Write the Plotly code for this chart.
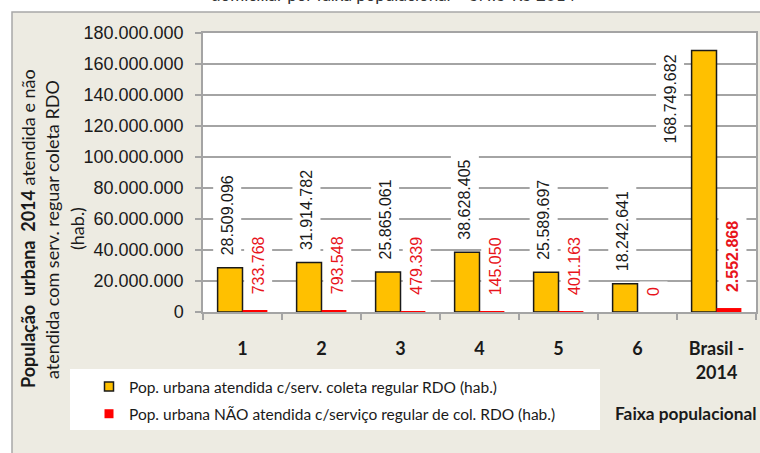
import plotly.graph_objects as go

# ---------------- data ----------------
categories = ["1", "2", "3", "4", "5", "6", "Brasil -<br>2014"]
atendida = [28509096, 31914782, 25865061, 38628405, 25589697, 18242641, 168749682]
nao_atendida = [733768, 793548, 479339, 145050, 401163, 0, 2552868]
y_ticks = [0, 20000000, 40000000, 60000000, 80000000, 100000000,
           120000000, 140000000, 160000000, 180000000]
series_names = [
    "Pop. urbana atendida c/serv. coleta regular RDO (hab.)",
    "Pop. urbana NÃO atendida c/serviço regular de col. RDO (hab.)",
]
title_text = "domiciliar por faixa populacional – SNIS-RS 2014"
y_title_lines = [
    "<b>População  urbana  2014</b> atendida e não",
    "atendida com serv. reguar coleta RDO",
    "(hab.)",
]
x_title = "Faixa populacional"

# ---------------- geometry ----------------
W, H = 760, 453
L, R, T, B = 203, 4, 33, 141
PW, PH = W - L - R, H - T - B


def px(x):
    return (x - L) / PW


def py(y):
    return (H - B - y) / PH


def fmt(v):
    return f"{v:,}".replace(",", ".")


YELLOW = "#FFC000"
RED = "#FF0000"
GRID = "#a4a4a4"
BG = "#EDEBE2"
TXT = "#1a1a1a"

fig = go.Figure()
fig.add_trace(go.Bar(x=categories, y=atendida, name=series_names[0],
                     marker=dict(color=YELLOW, line=dict(color=TXT, width=1.5)),
                     showlegend=False))
fig.add_trace(go.Bar(x=categories, y=nao_atendida, name=series_names[1],
                     marker=dict(color=RED, line=dict(width=0)),
                     showlegend=False))
# legend entries
fig.add_trace(go.Scatter(x=[None], y=[None], mode="markers", name=series_names[0],
                         legendgroup="a",
                         marker=dict(symbol="square", size=9, color=YELLOW,
                                     line=dict(color=TXT, width=1.5))))
fig.add_trace(go.Scatter(x=[None], y=[None], mode="markers", name=series_names[1],
                         legendgroup="b",
                         marker=dict(symbol="square", size=9, color=RED,
                                     line=dict(width=0))))

annotations = []
n = len(categories)
for i, v in enumerate(atendida):
    last = i == n - 1
    annotations.append(dict(
        x=i, y=v, xref="x", yref="y", text=fmt(v), showarrow=False,
        textangle=-90, xanchor="center",
        yanchor="top" if last else "bottom",
        yshift=2 if last else 6, xshift=-46 if last else -15,
        bgcolor="white", borderpad=5,
        font=dict(family="Liberation Sans", size=16, color=TXT)))
for i, v in enumerate(nao_atendida):
    last = i == n - 1
    annotations.append(dict(
        x=i, y=v, xref="x", yref="y",
        text=f"<b>{fmt(v)}</b>" if last else fmt(v), showarrow=False,
        textangle=-90, xanchor="center", yanchor="bottom",
        yshift=10, xshift=16,
        bgcolor="white", borderpad=5,
        font=dict(family="Liberation Sans", size=16, color="#e8141b")))

# axis titles and chart title
for xx, line in zip([28, 52, 77], y_title_lines):
    annotations.append(dict(
        x=px(xx), y=py(229), xref="paper", yref="paper", text=line,
        showarrow=False, textangle=-90, xanchor="center", yanchor="middle",
        font=dict(family="Lato", size=18, color=TXT)))
annotations.append(dict(
    x=px(613), y=py(413), xref="paper", yref="paper", text=f"<b>{x_title}</b>",
    showarrow=False, xanchor="left", yanchor="middle",
    font=dict(family="Lato", size=17.3, color=TXT)))
annotations.append(dict(
    x=px(393), y=py(7), xref="paper", yref="paper", text=title_text,
    showarrow=False, xanchor="center", yanchor="bottom",
    font=dict(family="Lato", size=17, color="#333333")))

shapes = [
    dict(type="rect", xref="paper", yref="paper", x0=px(0), x1=px(W), y0=py(0), y1=py(12),
         fillcolor="white", line=dict(width=0), layer="below"),
    dict(type="rect", xref="paper", yref="paper", x0=px(0), x1=px(12), y0=py(0), y1=py(H),
         fillcolor="white", line=dict(width=0), layer="below"),
    dict(type="rect", xref="paper", yref="paper", x0=px(12), x1=px(W + 20), y0=py(12), y1=py(H + 20),
         fillcolor="rgba(0,0,0,0)", line=dict(color="#a8a8a8", width=1.5), layer="below"),
    dict(type="rect", xref="paper", yref="paper", x0=px(70), x1=px(600), y0=py(369), y1=py(430),
         fillcolor="white", line=dict(width=0), layer="below"),
]

fig.update_layout(
    width=W, height=H, autosize=False,
    margin=dict(l=L, r=R, t=T, b=B, pad=0, autoexpand=False),
    paper_bgcolor=BG, plot_bgcolor="white",
    separators=",.",
    barmode="group", bargap=0.37, bargroupgap=0,
    showlegend=True,
    legend=dict(x=px(89), y=py(370), xanchor="left", yanchor="top",
                bgcolor="rgba(0,0,0,0)", traceorder="grouped", tracegroupgap=4,
                font=dict(family="Lato", size=15.5, color=TXT), itemwidth=30),
    annotations=annotations, shapes=shapes,
    xaxis=dict(type="category", categoryorder="array", categoryarray=categories,
               range=[-0.5, n - 0.5],
               showline=True, linecolor=GRID, linewidth=1.5, mirror=True,
               ticks="outside", tickson="boundaries", ticklen=6, tickcolor=GRID,
               tickwidth=1.5, showgrid=False, ticklabelstandoff=20,
               tickfont=dict(family="Lato", size=18, color=TXT, weight="bold")),
    yaxis=dict(range=[0, 180000000], tickvals=y_ticks, tickformat=",d",
               showline=True, linecolor=GRID, linewidth=1.5, mirror=True,
               ticks="outside", ticklen=6, tickcolor=GRID, tickwidth=1.5,
               gridcolor=GRID, gridwidth=1.5, zeroline=False,
               ticklabelstandoff=8,
               tickfont=dict(family="Liberation Sans", size=18, color=TXT)),
)

fig.write_html(
    "out.html",
    config={"displayModeBar": False},
    post_script="document.body.style.margin='0';document.body.style.overflow='hidden';",
)
